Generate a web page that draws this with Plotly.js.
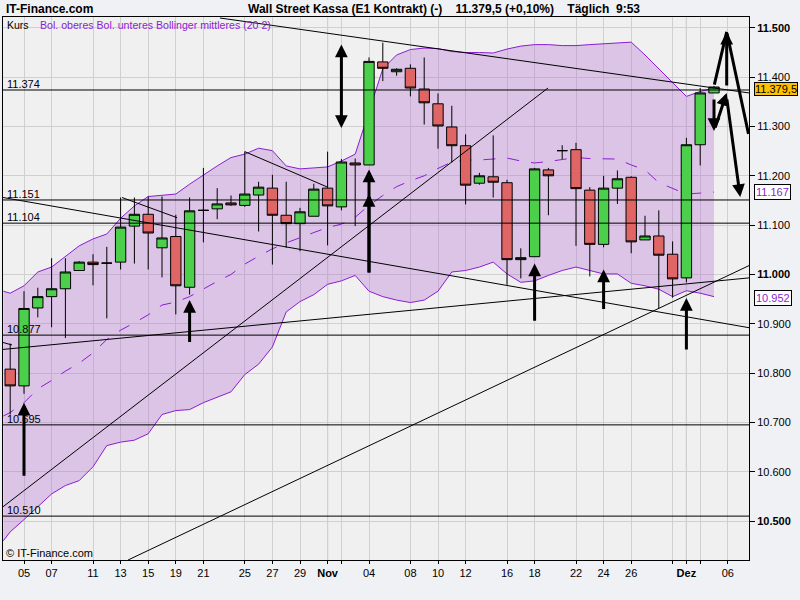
<!DOCTYPE html>
<html><head><meta charset="utf-8">
<script src="https://cdn.plot.ly/plotly-3.0.1.min.js"></script>
<style>html,body{margin:0;padding:0;background:#f0f1f4;}</style>
</head><body><div id="chart" style="width:800px;height:600px;"></div>
<script>
// ---- data ----
const days = [-1,0,1,2,3,4,5,6,7,8,9,10,11,12,13,14,15,16,17,18,19,20,21,22,23,24,25,26,27,28,29,30,31,32,33,34,35,36,37,38,39,40,41,42,43,44,45,46,47,48,49,50];
const openP  = [10808,10774,10932,10955,10971,11008,11025,11023,11025,11098,11122,11054,11077,10974,11130,11133,11145,11140,11161,11175,11120,11103,11118,11175,11137,11226,11222,11431,11411,11418,11376,11346,11299,11261,11185,11198,11186,11030,11036,11212,11251,11253,11171,11061,11175,11197,11070,11078,11041,10993,11263,11368];
const highP  = [10860,10966,10973,11033,11033,11027,11041,11056,11156,11156,11158,11158,11121,11156,11216,11175,11160,11249,11188,11202,11188,11135,11184,11249,11234,11235,11440,11470,11418,11426,11440,11367,11342,11284,11206,11282,11192,11053,11216,11216,11262,11267,11177,11200,11211,11199,11119,11130,11067,11277,11378,11382];
const lowP   = [10716,10758,10913,10893,10871,11008,10978,10911,11010,11022,11010,10994,10919,10959,11065,11112,11139,11137,11087,11020,11054,11047,11118,11059,11130,11098,11222,11392,11403,11361,11304,11255,11227,11142,11182,11156,10979,10992,11036,11120,11234,11058,10996,11055,11143,11043,11070,10931,10953,10984,11221,11368];
const closeP = [10774,10931,10955,10971,11005,11025,11020,11023,11096,11122,11084,11074,10977,11129,11130,11143,11141,11163,11177,11120,11103,11127,11173,11139,11228,11222,11432,11418,11416,11378,11348,11301,11261,11181,11200,11187,11030,11034,11214,11200,11251,11174,11061,11175,11194,11066,11078,11039,10991,11263,11368,11380];

const bandX = [-1.5,-1,0,1,2,3,4,5,6,7,8,9,10,11,12,13,14,15,16,17,18,19,20,21,22,23,24,25,26,27,28,29,30,31,32,33,34,35,36,37,38,39,40,41,42,43,44,45,46,47,48,49,50];
const bandUpper = [10966,10962,10977,11005,11015,11036,11058,11072,11082,11114,11139,11158,11160,11163,11183,11202,11220,11237,11244,11256,11251,11220,11214,11216,11218,11230,11244,11330,11417,11445,11456,11459,11458,11452,11450,11450,11449,11457,11463,11466,11466,11464,11464,11466,11468,11469,11471,11445,11417,11389,11361,11371,11378];
const bandLower = [10460,10478,10503,10530,10555,10572,10582,10610,10653,10660,10664,10677,10716,10724,10726,10740,10751,10762,10797,10818,10853,10924,10945,10959,10980,10987,10998,10966,10955,10948,10943,10948,10966,11005,11008,11015,11025,11001,10984,10987,10998,11008,11015,11008,11001,11001,10982,10977,10970,10955,10967,10962,10955];
const bandMiddle = [10713,10720,10740,10768,10785,10804,10820,10841,10868,10887,10902,10918,10938,10944,10955,10971,10986,11000,11021,11037,11052,11064,11075,11085,11095,11102,11116,11140,11160,11178,11190,11200,11215,11228,11232,11232,11234,11236,11230,11226,11229,11233,11237,11235,11235,11234,11222,11212,11186,11175,11163,11165,11167];

const tickIdx  = [0,2,5,7,9,11,13,16,18,20,22,23,25,28,30,32,35,37,40,42,44,47,48,49,51];
const tickText = ['05','07','11','13','15','19','21','25','27','29','<b>Nov</b>','','04','08','10','12','16','18','22','24','26','','<b>Dez</b>','','06'];
const monthIdx = [22,48];

const yTicks = [10500,10600,10700,10800,10900,11000,11100,11200,11300,11400,11500];
const yTickText = ['<b>10.500</b>','10.600','10.700','10.800','10.900','<b>11.000</b>','11.100','11.200','11.300','11.400','<b>11.500</b>'];

const hLevels = [11374,11151,11104,10877,10695,10510];
const hLabels = ['11.374','11.151','11.104','10.877','10.695','10.510'];

const trendX = [14.2,52.54,null,-1.52,37.97,null,7.54,52.54,null,-1.52,52.54,null,-1.52,52.54,null,16.0,22.0,null,7.1,11.1,null,-1.52,-0.87];
const trendY = [11520,11368,null,10529,11378,null,10421,11018,null,11156,10892,null,10848,10993,null,11249,11177,null,11156,11115,null,10862,10857];

// arrows: tail -> head; kind: 'up' (head at end), 'both', 'line'
const arrowTailX = [0,12,23,25,25,37,42,48,50.0,50.92,50.92,50.0,50.05,50.92];
const arrowTailY = [10589,10860,11294,11001,11001,10903,10927,10845,11382,11380,11492,11358,11295,11358];
const arrowHeadX = [0,12,23,25,25,37,42,48,50.92,50.92,52.5,50.0,50.92,51.9];
const arrowHeadY = [10740,10948,11466,11213,11163,11022,11010,10952,11492,11492,11285,11291,11368,11157];
const arrowKind  = ['up','up','both','up','up','up','up','up','line','up','line','up','up','up'];

const lastPrice = 11379.5, lastPriceText = '11.379,5';
const midLast = 11167, midLastText = '11.167';
const lowLast = 10952, lowLastText = '10.952';

// ---- chart ----
const FONT = 'Liberation Sans, Arial, sans-serif';
const purple = '#8a1ed2';
const xr = [-1.522, 52.536], yr = [10421, 11522];

const traces = [
  {x: bandX, y: bandLower, mode:'lines', line:{color:purple, width:1}, hoverinfo:'skip', showlegend:false},
  {x: bandX, y: bandUpper, mode:'lines', fill:'tonexty', fillcolor:'rgba(175,95,210,0.3)', line:{color:purple, width:1}, hoverinfo:'skip', showlegend:false},
  {x: bandX, y: bandMiddle, mode:'lines', line:{color:purple, width:1, dash:'12px,12px'}, hoverinfo:'skip', showlegend:false},
  {type:'candlestick', x: days, open: openP, high: highP, low: lowP, close: closeP, xaxis:'x2', yaxis:'y2',
   whiskerwidth:0,
   increasing:{line:{color:'#000', width:1}, fillcolor:'#4cd04c'},
   decreasing:{line:{color:'#000', width:1}, fillcolor:'#e06666'},
   hoverinfo:'skip', showlegend:false},
  {x: trendX, y: trendY, xaxis:'x2', yaxis:'y2', mode:'lines', line:{color:'#000', width:1}, connectgaps:false, hoverinfo:'skip', showlegend:false}
];

const shapes = [];
hLevels.forEach(v => shapes.push({type:'line', xref:'paper', x0:0, x1:1, yref:'y', y0:v, y1:v, line:{color:'#000', width:1}}));
monthIdx.forEach(i => shapes.push({type:'line', xref:'x', x0:i, x1:i, yref:'paper', y0:0, y1:1, line:{color:'#a0a0a0', width:1}, layer:'below'}));

const annotations = [];
hLevels.forEach((v,k) => annotations.push({xref:'paper', x:0, xanchor:'left', xshift:2, yref:'y', y:v, yanchor:'bottom', yshift:-2,
  text:hLabels[k], showarrow:false, font:{family:FONT, size:11, color:'#000'}}));

arrowTailX.forEach((tx,k) => {
  const kind = arrowKind[k];
  annotations.push({x: arrowHeadX[k], y: arrowHeadY[k], xref:'x', yref:'y', ax: tx, ay: arrowTailY[k], axref:'x', ayref:'y',
    text:'', showarrow:true, arrowcolor:'#000', arrowwidth: 3,
    arrowhead: kind==='line' ? 0 : 2, arrowsize: 0.85,
    arrowside: kind==='both' ? 'end+start' : 'end', startarrowhead: 2, startarrowsize: 0.85,
    standoff:0, startstandoff:0});
});

// header & legends
annotations.push({xref:'paper', yref:'paper', x:0, y:1, xanchor:'left', yanchor:'middle', xshift:1, yshift:8.5,
  text:'<b>IT-Finance.com</b>', showarrow:false, font:{family:FONT, size:12, color:'#000'}});
annotations.push({xref:'paper', yref:'paper', x:0, y:1, xanchor:'left', yanchor:'middle', xshift:243, yshift:8.5,
  text:'<b>Wall Street Kassa (E1 Kontrakt) (-)\u00a0\u00a0\u00a0\u00a011.379,5 (+0,10%)\u00a0\u00a0\u00a0\u00a0Täglich\u00a0\u00a09:53</b>', showarrow:false, font:{family:FONT, size:12, color:'#000'}});
annotations.push({xref:'paper', yref:'paper', x:0, y:1, xanchor:'left', yanchor:'middle', xshift:2, yshift:-8,
  text:'Kurs', showarrow:false, font:{family:FONT, size:10.5, color:'#000'}});
annotations.push({xref:'paper', yref:'paper', x:0, y:1, xanchor:'left', yanchor:'middle', xshift:35, yshift:-8,
  text:'Bol. oberes Bol. unteres Bollinger mittleres (20 2)', showarrow:false, font:{family:FONT, size:10.6, color:purple}});
annotations.push({xref:'paper', yref:'paper', x:0, y:0, xanchor:'left', yanchor:'middle', xshift:1, yshift:7,
  text:'© IT-Finance.com', showarrow:false, font:{family:FONT, size:11, color:'#000'}});

// right value boxes
annotations.push({xref:'paper', x:1, xanchor:'left', xshift:5, yref:'y', y:lastPrice, yanchor:'middle', yshift:-2, text:lastPriceText, showarrow:false,
  bgcolor:'#ffc000', bordercolor:'#000', borderwidth:1, borderpad:0, font:{family:FONT, size:11, color:'#000'}});
annotations.push({xref:'paper', x:1, xanchor:'left', xshift:5, yref:'y', y:midLast, yanchor:'middle', text:midLastText, showarrow:false,
  bgcolor:'#ffffff', bordercolor:'#000', borderwidth:1, borderpad:1, font:{family:FONT, size:11, color:purple}});
annotations.push({xref:'paper', x:1, xanchor:'left', xshift:5, yref:'y', y:lowLast, yanchor:'middle', text:lowLastText, showarrow:false,
  bgcolor:'#ffffff', bordercolor:'#000', borderwidth:1, borderpad:1, font:{family:FONT, size:11, color:purple}});

const layout = {
  width:800, height:600,
  margin:{l:3, r:51, t:17, b:40, pad:0},
  paper_bgcolor:'#f0f1f4', plot_bgcolor:'#f0f0f0',
  showlegend:false,
  boxgap:0.25, boxgroupgap:0,
  font:{family:FONT, size:11, color:'#000'},
  xaxis:{range:xr, autorange:false, tickmode:'array', tickvals:tickIdx, ticktext:tickText,
    showgrid:true, gridcolor:'#d0d0d0', gridwidth:1, zeroline:false,
    showline:true, linecolor:'#000', linewidth:1, mirror:true,
    ticks:'outside', ticklen:3, tickcolor:'#000', tickfont:{family:FONT, size:11, color:'#000'},
    rangeslider:{visible:false}, fixedrange:true},
  yaxis:{range:yr, autorange:false, side:'right', tickmode:'array', tickvals:yTicks, ticktext:yTickText,
    showgrid:true, gridcolor:'#d0d0d0', gridwidth:1, zeroline:false,
    showline:true, linecolor:'#000', linewidth:1, mirror:true,
    ticks:'outside', ticklen:5, tickcolor:'#000', tickfont:{family:FONT, size:11, color:'#000'}, fixedrange:true},
  xaxis2:{overlaying:'x', range:xr, autorange:false, visible:false, rangeslider:{visible:false}, fixedrange:true},
  yaxis2:{overlaying:'y', range:yr, autorange:false, visible:false, fixedrange:true},
  shapes: shapes,
  annotations: annotations
};

Plotly.newPlot('chart', traces, layout, {displayModeBar:false, staticPlot:true});
</script>
</body></html>
